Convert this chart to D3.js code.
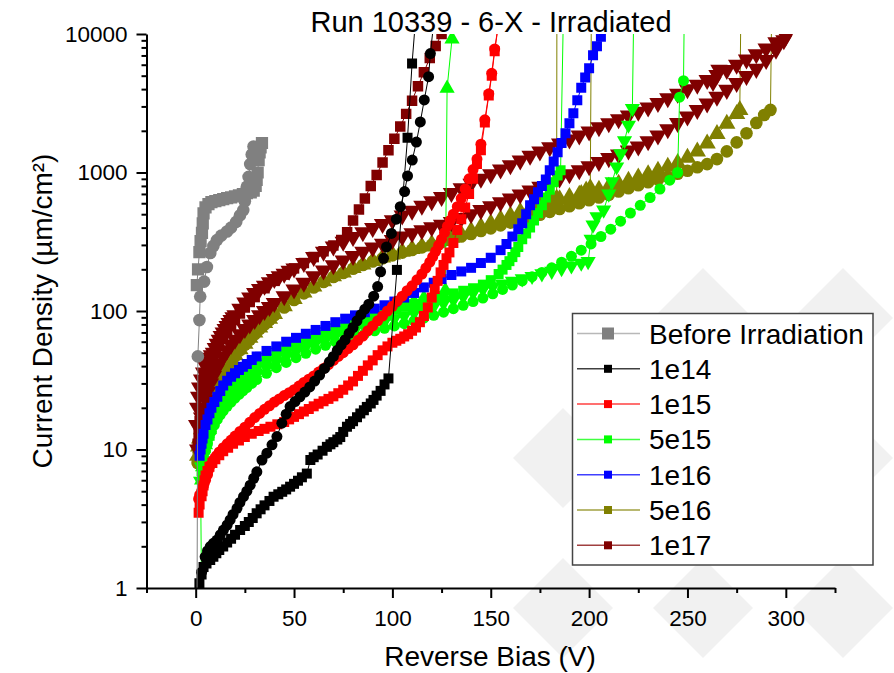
<!DOCTYPE html>
<html>
<head>
<meta charset="utf-8">
<script src="https://cdn.jsdelivr.net/npm/d3@7"></script>
<style>
  body { margin: 0; background: #fff; }
  text { font-family: "Liberation Sans", Arial, sans-serif; }
</style>
</head>
<body>
<div id="chart"></div>
<script>
// series (legend order)
const seriesNames = ["Before Irradiation", "1e14", "1e15", "5e15", "1e16", "5e16", "1e17"];
const seriesColors = ["#808080", "#000000", "#ff0000", "#00ff00", "#0000ff", "#808000", "#800000"];

const xTicks = [0, 50, 100, 150, 200, 250, 300];
const yTicks = [1, 10, 100, 1000, 10000];

// [bias V, current density]
const beforeSq = [[0.6,154],[1.2,200],[1.9,266],[2.5,320],[3.2,366],[3.6,430],[4,507],[5,560],[6.5,590],[8,610],[10,622],[12,632],[14,642],[16,652],[18,662],[20,672],[22,684],[24,698],[26,710],[28,720],[29.5,740],[30.5,800],[31,883],[31.5,1000],[32,1230],[32.5,1400],[33,1520],[33.7,1633]];
const beforeCi = [[0.6,0.3],[1.1,47],[1.9,86],[2.3,127],[4.3,163],[5.7,208],[7.4,262],[9,295],[10.8,325],[13,350],[15.9,375],[18,400],[20.6,440],[22.5,490],[24.2,535],[25,620],[26,790],[26.9,930],[27.7,1150],[28.5,1350],[29.4,1540]];

const e14Sq = [[1.9,1.08],[3,1.25],[4,1.42],[5.5,1.5],[7.4,1.59],[9,1.68],[10.5,1.78],[12,1.88],[14,1.99],[16,2.13],[18,2.27],[20,2.42],[22.6,2.62],[25,2.8],[27,3],[29,3.2],[31,3.46],[33,3.7],[35,3.95],[37.5,4.25],[39.6,4.56],[42,4.75],[44,4.95],[46,5.15],[48,5.39],[50,5.65],[52,5.95],[54,6.3],[56.5,6.7],[58.3,8.4],[60,8.8],[62,9.2],[64.5,9.8],[66.7,10.45],[68.5,10.9],[70,11.3],[72,11.8],[73.5,12.3],[75,13.4],[76.9,14.6],[78.5,15.3],[80,16],[82,17.1],[83.7,18.2],[85.5,19.2],[87,20.3],[89,21.5],[90.4,22.8],[92,24.5],[94,26.5],[96,29.5],[98,32.6],[102.3,198],[107.7,1780],[110,6130],[112,14000]];
const e14Ci = [[3,1.3],[4.8,1.68],[6,1.85],[7.4,1.99],[9,2.1],[10.8,2.22],[12.5,2.42],[14.1,2.62],[16,2.85],[17.5,3.1],[19,3.4],[21,3.76],[22.5,4.15],[24.3,4.56],[26,5],[27.7,5.53],[29.5,6.2],[31.1,6.9],[33.7,8.4],[36.2,9.4],[38.8,10.8],[41.3,12.4],[43.8,15.5],[46,18],[48,20.4],[50.5,22.2],[53,24],[55.5,26],[58,28.3],[60.5,31.2],[63,34.5],[65.5,38.5],[68,43],[70,47],[72,52],[74,57],[76,62],[78,69],[80,76],[82,85],[84,94],[86,103],[88,112],[90.5,128],[92.5,150],[94,192],[95.5,240],[97,290],[99.5,363],[102,460],[104,567],[106.2,728],[107.7,945],[110.1,1230],[112.2,1660],[114.2,2320],[116.2,3340],[118.4,4920],[119.3,7220],[121,12000]];

const e15Sq = [[1.5,3.5],[2,4],[3,4.6],[3.5,5],[4,5.5],[4.5,6],[5,6.5],[6,7],[7,7.5],[8.5,8],[10,8.5],[12,9.1],[14,9.7],[16.5,10.3],[19,11],[22,11.6],[25,12.3],[28.5,13],[32,13.6],[35,14.1],[38,14.6],[41.5,15.2],[45,15.8],[47.5,16.5],[50,17.2],[52.5,18],[55,18.8],[57.5,19.6],[60,20.5],[62.5,21.4],[65,22.3],[67.5,23.2],[70,24.2],[72.5,25.5],[75,27],[77.5,29],[80,31],[82.5,34],[85,37],[87.5,40.5],[90,44],[92.5,48],[95,52],[97.5,55.5],[100,59],[102,61],[104,63],[106,65.5],[108,68],[110,72],[112,76],[114,83],[116,92],[118,106],[120,125],[121.5,144],[123,165],[124.5,190],[126,215],[127.5,240],[129,265],[131,310],[133,384],[135,460],[137,560],[139,700],[141,900],[143,1150],[145,1450],[147,2300],[149,3600],[150.5,5000],[152,7500],[154,12000]];
const e15Ci = [[1.5,4.4],[2,4.7],[3,5],[4,5.5],[5,6],[6,6.6],[6.5,7.1],[7.5,7.7],[9,8.4],[10.5,9],[12,9.6],[14,10.3],[16,11],[18,11.7],[20,12.5],[22.5,13.5],[25,14.5],[27.5,15.7],[30,17],[32.5,18.2],[35,19.5],[37.5,20.7],[40,22],[42.5,23.2],[45,24.5],[47.5,25.7],[50,27],[52.5,28.7],[55,30.5],[57.5,32.2],[60,34],[62.5,36.2],[65,38.5],[67.5,41],[70,44],[72.5,47],[75,50],[77.5,53.5],[80,57],[82.5,61.5],[85,66],[87.5,72],[90,78],[92.5,85],[95,92],[97.5,100],[100,108],[102.5,118],[105,128],[107.5,140],[110,152],[112.5,168],[115,185],[117,204],[119,225],[120.5,246],[122,270],[123.5,298],[125,330],[126.5,368],[128,410],[129.5,452],[131,500],[133,567],[135,650],[137,760],[139,900],[141,1050],[143,1250],[145,1600],[147,2400],[149,3700],[150.5,5200],[152,7800],[154,12000]];

const e5Sq = [[3,7],[3.5,8.5],[4,10],[5,12],[6,14],[7,15.5],[8,17],[9.5,19],[11,21],[12.5,23],[14,25],[16,27],[18,29],[20,31],[22,33],[24,35],[26,37],[28.5,39.5],[31,42],[36,46],[41,51],[46,55],[51,59],[56,63],[61,67],[66,71],[71,75],[76,79],[81,83],[86,87],[91,92],[96,97],[101,102],[106,107],[111,112],[116,117],[121,122],[126,128],[131,134],[136,140],[141,146],[146,155],[150,167],[154,185],[156,199],[158,215],[159.5,229],[161,245],[162.5,266],[164,290],[166,330],[168,362],[170,400],[172,450],[174,510],[176,580],[178,660],[180,750],[182,850],[184,950],[185.5,1040],[188,100000]];
const e5TriUp = [[3,6],[3.5,7.5],[4,9],[5,10.8],[6,12.5],[7,14],[8,15.5],[9.5,17.3],[11,19],[12.5,20.5],[14,22],[16,24],[18,26],[20,28],[22,30],[24,32],[26,34],[28.5,36.3],[31,38.5],[36,43],[41,47],[46,51],[51,55],[56,59],[61,63],[66,67],[71,71],[76,76],[81,81],[86,86],[91,92],[96,98],[101,104],[106,110],[111,117],[116,124],[121,131],[126.9,141],[127.8,4050],[130.3,9200],[131,100000]];
const e5TriDn = [[3.2,0.4],[2.5,5.9],[3,7.5],[4,9],[5,10.5],[6,12],[7,13.3],[8,14.5],[9.5,16],[11,17.5],[12.5,19],[14,20.5],[16,22.3],[18,24],[20,25.8],[22,27.5],[24,29.3],[26,31],[28.5,33],[31,35],[36,39],[41,43],[46,47],[51,51],[56,55],[61,59],[66,62],[71,66],[76,70],[81,73],[86,77],[91,80],[96,84],[101,88],[106,92],[111,97],[116,102],[121,108],[126,114],[131,120],[136,127],[141,135],[146,143],[151,150],[156,157],[161,164],[166,171],[171,178],[176,186],[181,194],[186,203],[191,212],[196,222],[199.5,228],[201,330],[202,418],[204,480],[207.4,536],[210,700],[211.7,860],[214,1100],[216,1370],[218,1700],[220,2200],[222,2900],[223.5,100000]];
const e5Ci = [[3,6],[3.5,7.2],[4,8.5],[5,9.8],[6,11],[7,12.3],[8,13.5],[9.5,15],[11,16.5],[12.5,17.8],[14,19],[16,20.5],[18,22],[20,23.5],[22,25],[24,26.5],[26,28],[28.5,30],[31,32],[36,35.5],[41,39],[46,42.5],[51,46],[56,49.5],[61,53],[66,56.5],[71,60],[76,63],[81,66],[86,69],[91,72],[96,75],[101,78],[106,81],[111,85],[116,89],[121,93],[126,98],[131,104],[136,110],[141,117],[146,124],[151,133],[156,143],[161,154],[166,165],[171,177],[176,190],[181,205],[186,225],[191,248],[196,275],[201,305],[206,345],[211,390],[216,445],[221,510],[226,580],[231,660],[236,760],[241,880],[245,1000],[246,3500],[248,4600],[249,100000]];

const e16Sq = [[2,9],[2.5,10],[3,11],[3.5,12],[4,13],[5,15],[6,16.5],[7,18.3],[8,20],[9.5,22],[11,24],[12.5,26.5],[14,29],[16,31.3],[18,33.5],[20,35.5],[22,37.5],[24,39.5],[26,41.5],[28.5,44.3],[31,47],[36,51.5],[41,55.5],[46,60],[51,64],[56,68.5],[61,73],[66,78],[71,83],[76,88],[81,93],[86,98],[91,104],[96,110],[101,117],[106,125],[111,135],[116,148],[121,160],[125,170],[130,182],[135,193],[140,205],[145,222],[150,242],[155,275],[158,305],[161,345],[164,390],[166,430],[168,500],[170,580],[172,640],[174,720],[176,800],[178,890],[180,1040],[182,1200],[184,1400],[186,1630],[188,1920],[190,2270],[192,2680],[194,3330],[196,4100],[198,4850],[200,5650],[202,7030],[204,8160],[206,9550],[208,12000]];

const e516Tri = [[1,9],[1.5,10.5],[2,12],[3,14],[4,16],[5,18],[6,20],[7.5,23],[9,26],[10.5,29],[12,32],[14,36],[16,40],[18,44],[20,48],[22.5,53],[25,58],[27.5,64],[30,70],[32.5,76],[35,82],[37.5,88],[40,95],[45,108],[50,122],[55,136],[60,150],[65,164],[70,178],[75,190],[80,204],[85,217],[90,230],[95,243],[100,256],[105,268],[110,280],[115,292],[120,305],[125,320],[130,338],[135,358],[140,380],[145,405],[150,430],[155,460],[160,490],[165,520],[170,550],[175,580],[180,610],[185,640],[190,665],[195,690],[200,720],[205,750],[210,790],[215,830],[220,870],[225,920],[230,970],[235,1030],[240,1100],[245,1170],[250,1280],[255,1420],[260,1620],[265,1900],[270,2250],[275,2650],[276.6,2830],[277.8,100000]];
const e516Ci = [[1,8],[1.5,9.5],[2,11],[3,13],[4,15],[5,17],[6,19],[7.5,22],[9,25],[10.5,28],[12,31],[14,35],[16,39],[18,43],[20,47],[22.5,52],[25,57],[27.5,62],[30,68],[32.5,74],[35,80],[37.5,86],[40,93],[45,106],[50,120],[55,134],[60,148],[65,162],[70,176],[75,188],[80,202],[85,215],[90,228],[95,240],[100,252],[105,264],[110,276],[115,288],[120,300],[125,314],[130,330],[135,345],[140,360],[145,378],[150,395],[155,415],[160,435],[165,455],[170,475],[175,495],[180,520],[185,545],[190,570],[195,600],[200,630],[205,660],[210,690],[215,730],[220,770],[225,810],[230,850],[235,890],[240,930],[245,980],[250,1030],[255,1090],[260,1150],[265,1250],[270,1420],[275,1650],[280,1920],[285,2280],[289,2600],[292.2,2830],[293.5,100000]];
const e516TriB = [[196,700],[198.5,740],[200.6,770],[201.5,100000]];
const e516TriC = [[178,600],[181,625],[183.5,650],[183.7,100000]];

const e17Tri = [[0.5,15],[1,20],[1.5,24],[2,28],[3,32],[4,36],[5,40],[6,44],[7,46],[8,48],[9,50],[10,54],[11,58],[12,62],[13,66],[14,70],[15,74],[16,78],[17,82],[18,86],[19,90],[20,93],[22.5,104],[25,115],[27.5,125],[30,135],[32.5,144],[35,152],[37.5,161],[40,170],[42.5,178],[45,186],[47.5,195],[50,203],[55,222],[60,245],[65,268],[70,292],[75,316],[80,342],[85,370],[90,398],[95,425],[100,452],[105,490],[110,530],[115,575],[120,620],[125,665],[130,710],[135,770],[140,830],[145,900],[150,970],[155,1050],[160,1130],[165,1220],[170,1320],[175,1420],[180,1520],[185,1620],[190,1730],[195,1850],[200,1980],[205,2120],[210,2270],[215,2420],[220,2580],[225,2750],[230,2950],[235,3180],[240,3430],[245,3700],[250,3990],[255,4300],[260,4650],[265,5050],[270,5500],[275,6000],[280,6550],[285,7150],[290,7850],[295,8700],[300,9600]];
const e17TriB = [[1,10],[2,14],[3,17],[4,20],[5,23],[6,26],[7.5,30],[9,34],[10.5,38],[12,42],[14,47],[16,52],[18,57],[20,62],[22.5,68],[25,74],[27.5,80],[30,86],[32.5,93],[35,100],[37.5,107],[40,114],[45,128],[50,143],[55,160],[60,178],[65,196],[70,214],[75,232],[80,250],[85,268],[90,287],[95,306],[100,325],[105,345],[110,364],[115,383],[120,402],[125,420],[130,440],[135,470],[140,500],[145,535],[150,570],[155,610],[160,650],[165,695],[170,740],[175,790],[180,845],[185,905],[190,970],[195,1040],[200,1110],[205,1190],[210,1270],[215,1350],[220,1440],[225,1540],[230,1680],[235,1850],[240,2050],[245,2280],[250,2540],[255,2830],[260,3150],[265,3520],[270,3950],[275,4430],[280,4970],[285,5600],[290,6500],[295,7700],[299,9000]];
const e17Sq = [[1,11],[1.5,13],[2,16],[3,20],[4,25],[5,29],[6,33],[7.5,38],[9,44],[10.5,50],[12,56],[14,63],[16,70],[18,78],[20,86],[22.5,96],[25,106],[27.5,116],[30,126],[35,146],[40,165],[45,183],[50,203],[55,222],[60,245],[65,270],[70,297],[74,325],[77,370],[80,450],[83,540],[86,650],[89,800],[92,960],[95,1180],[98,1450],[101,1750],[104,2150],[107,2650],[110,3300],[113,4200],[116,5300],[119,6700],[122,8200],[125,10000],[127,12000]];
const e17TriC = [[263,4500],[266,5530]];

// drawing order: series index, marker, points
const curves = [
  { s: 5, shape: "triUp", pts: e516Tri },
  { s: 5, shape: "circle", pts: e516Ci },
  { s: 5, shape: "triUp", pts: e516TriB },
  { s: 5, shape: "triUp", pts: e516TriC },
  { s: 6, shape: "triDown", pts: e17TriB },
  { s: 6, shape: "triDown", pts: e17Tri },
  { s: 6, shape: "square", pts: e17Sq },
  { s: 6, shape: "triDown", pts: e17TriC },
  { s: 3, shape: "circle", pts: e5Ci },
  { s: 3, shape: "triDown", pts: e5TriDn },
  { s: 3, shape: "triUp", pts: e5TriUp },
  { s: 3, shape: "square", pts: e5Sq },
  { s: 4, shape: "square", pts: e16Sq },
  { s: 2, shape: "square", pts: e15Sq },
  { s: 2, shape: "circle", pts: e15Ci },
  { s: 1, shape: "square", pts: e14Sq },
  { s: 1, shape: "circle", pts: e14Ci },
  { s: 0, shape: "square", pts: beforeSq },
  { s: 0, shape: "circle", pts: beforeCi }
];

const width = 894,
      height = 673,
      margin = ({ top: 34, right: 59, bottom: 85, left: 146.5 });

let svg = d3.select("#chart")
    .append("svg")
    .attr("width", width)
    .attr("height", height)
    .style("display", "block");

svg.append("rect").attr("width", width).attr("height", height).attr("fill", "#fff");

// faint watermark diamonds behind the plot
const marks = [[703,318],[843,318],[563,458],[703,458],[843,458],[563,608],[703,608],[843,608]];
svg.append("g")
    .selectAll("path")
    .data(marks)
    .join("path")
    .attr("d", d => `M${d[0]},${d[1]-50}L${d[0]+50},${d[1]}L${d[0]},${d[1]+50}L${d[0]-50},${d[1]}Z`)
    .attr("fill", "#f1f1f1");

let x = d3.scaleLinear()
    .domain([-25, 325])
    .range([margin.left, width - margin.right]);

let y = d3.scaleLog()
    .domain([1, 10000])
    .range([height - margin.bottom, margin.top]);

svg.append("clipPath").attr("id", "plot-clip")
    .append("rect")
    .attr("x", margin.left)
    .attr("y", margin.top)
    .attr("width", width - margin.right - margin.left)
    .attr("height", height - margin.bottom - margin.top);

// band-forming series (5e15, 5e16, 1e17) get slightly larger markers
const symbols = {
    square: d3.symbol().type(d3.symbolSquare).size(100),
    circle: d3.symbol().type(d3.symbolCircle).size(95),
    triUp: d3.symbol().type(d3.symbolTriangle).size(100),
    triDown: d3.symbol().type(d3.symbolTriangle).size(100)
};
const bigSymbols = {
    square: d3.symbol().type(d3.symbolSquare).size(150),
    circle: d3.symbol().type(d3.symbolCircle).size(125)
};
const bandSymbols = {
    square: d3.symbol().type(d3.symbolSquare).size(110),
    circle: d3.symbol().type(d3.symbolCircle).size(125),
    triUp: d3.symbol().type(d3.symbolTriangle).size(130),
    triDown: d3.symbol().type(d3.symbolTriangle).size(130)
};

let line = d3.line()
    .x(d => x(d[0]))
    .y(d => y(d[1]));

let plot = svg.append("g").attr("clip-path", "url(#plot-clip)");

for (let c of curves) {
    let col = seriesColors[c.s];
    let g = plot.append("g");
    g.append("path")
        .attr("d", line(c.pts))
        .attr("fill", "none")
        .attr("stroke", col)
        .attr("stroke-width", 1);
    let sym = c.s === 0 ? bigSymbols[c.shape] : (c.s >= 5 ? bandSymbols[c.shape] : symbols[c.shape]);
    g.selectAll("path.m")
        .data(c.pts.filter(d => d[1] >= 1 && d[1] <= 10000))
        .join("path")
        .attr("class", "m")
        .attr("d", sym)
        .attr("fill", col)
        .attr("transform", d => `translate(${x(d[0])},${y(d[1])})` + (c.shape === "triDown" ? " rotate(180)" : ""));
}

// axes
const axisY0 = height - margin.bottom;
let xMinor = d3.range(-25, 326, 50);
let yMinor = [];
for (let k of [1, 10, 100, 1000]) for (let m = 2; m <= 9; m++) yMinor.push(m * k);

let gx = svg.append("g").attr("transform", `translate(0,${axisY0})`);
gx.call(d3.axisBottom(x).tickValues(xTicks).tickSize(10).tickSizeOuter(0).tickPadding(12));
gx.append("g").call(d3.axisBottom(x).tickValues(xMinor).tickSize(5).tickFormat("")).select(".domain").remove();

let gy = svg.append("g").attr("transform", `translate(${margin.left},0)`);
gy.call(d3.axisLeft(y).tickValues(yTicks).tickFormat(d3.format("d")).tickSize(10).tickSizeOuter(0).tickPadding(9));
gy.append("g").call(d3.axisLeft(y).tickValues(yMinor).tickSize(5).tickFormat("")).select(".domain").remove();

svg.selectAll(".domain").attr("stroke", "#000").attr("stroke-width", 2);
svg.selectAll(".tick line").attr("stroke", "#000").attr("stroke-width", 2);
svg.selectAll(".tick text")
    .attr("fill", "#000")
    .style("font-family", "'Liberation Sans', Arial, sans-serif")
    .style("font-size", "22.5px");

// titles
svg.append("text")
    .attr("x", 491).attr("y", 32)
    .attr("text-anchor", "middle")
    .style("font-size", "29px")
    .text("Run 10339 - 6-X - Irradiated");

svg.append("text")
    .attr("x", 490).attr("y", 666)
    .attr("text-anchor", "middle")
    .style("font-size", "28px")
    .text("Reverse Bias (V)");

svg.append("text")
    .attr("transform", "translate(52,311) rotate(-90)")
    .attr("text-anchor", "middle")
    .style("font-size", "28px")
    .text("Current Density (µm/cm²)");

// legend
let legend = svg.append("g");
legend.append("rect")
    .attr("x", 572.5).attr("y", 313.5)
    .attr("width", 300.5).attr("height", 251.5)
    .attr("fill", "#fff")
    .attr("stroke", "#444")
    .attr("stroke-width", 1.5);

let item = legend.selectAll(".item")
    .data(seriesNames)
    .join("g")
    .attr("class", "item")
    .attr("transform", (d, i) => `translate(0,${333.5 + i * 35.3})`);

item.append("line")
    .attr("x1", 577).attr("x2", 640)
    .attr("stroke", (d, i) => i === 0 ? "#b8b8b8" : seriesColors[i])
    .attr("stroke-opacity", (d, i) => i === 0 ? 1 : 0.75)
    .attr("stroke-width", 1.5);

item.append("rect")
    .attr("x", (d, i) => i === 0 ? 602 : 604)
    .attr("y", (d, i) => i === 0 ? -6 : -4)
    .attr("width", (d, i) => i === 0 ? 12 : 8)
    .attr("height", (d, i) => i === 0 ? 12 : 8)
    .attr("fill", (d, i) => seriesColors[i]);

item.append("text")
    .attr("x", 649)
    .attr("y", 10)
    .style("font-size", "28px")
    .text(d => d);
</script>
</body>
</html>
